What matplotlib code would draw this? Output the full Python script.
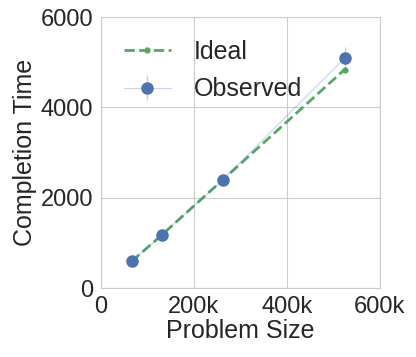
import matplotlib
matplotlib.use('Agg')
import matplotlib.pyplot as plt
from matplotlib.ticker import FuncFormatter
import seaborn as sns

# problem sizes and timings
sizes = [65536, 131072, 262144, 524288]
ideal = [590, 1180, 2400, 4840]
observed = [590, 1180, 2400, 5090]
observed_err = [20, 30, 50, 250]

sns.set_style('whitegrid')
plt.rcParams['font.family'] = ['Liberation Sans', 'DejaVu Sans']

fig = plt.figure(figsize=(4.16, 3.57), dpi=100)
ax = fig.add_axes([0.243, 0.193, 0.670, 0.759])

ax.plot(sizes, ideal, '--', marker='.', color='#55A868', lw=2, ms=7, label='Ideal')
ax.errorbar(sizes, observed, yerr=observed_err, fmt='o', color='#4C72B0', ms=8,
            ecolor='#4C72B0', elinewidth=1, capsize=0, label='Observed',
            ls='-', lw=0.8)
# make the connecting line and error bars faint like the original
obs = ax.containers[-1]
for c in obs.lines[2]:
    c.set_alpha(0.3)
line = obs.lines[0]
line.set_color((0.298, 0.447, 0.690, 0.3))
line.set_markerfacecolor('#4C72B0')
line.set_markeredgecolor('#4C72B0')

ax.set_xlim(0, 600000)
ax.set_ylim(0, 6000)
ax.set_xticks([0, 200000, 400000, 600000])
ax.set_yticks([0, 2000, 4000, 6000])
ax.xaxis.set_major_formatter(FuncFormatter(lambda v, p: '0' if v == 0 else f'{int(v / 1000)}k'))
ax.tick_params(labelsize=17, colors='#262626', pad=2)
ax.set_xlabel('Problem Size', fontsize=18, color='#262626', labelpad=1)
ax.set_ylabel('Completion Time', fontsize=18, color='#262626', labelpad=3)
for s in ax.spines.values():
    s.set_color('#cccccc')

ax.legend(loc='upper left', fontsize=18, frameon=False, handlelength=1.9,
          handletextpad=0.9, labelspacing=0.55, borderaxespad=0.5)

fig.savefig('out.png', dpi=100)
